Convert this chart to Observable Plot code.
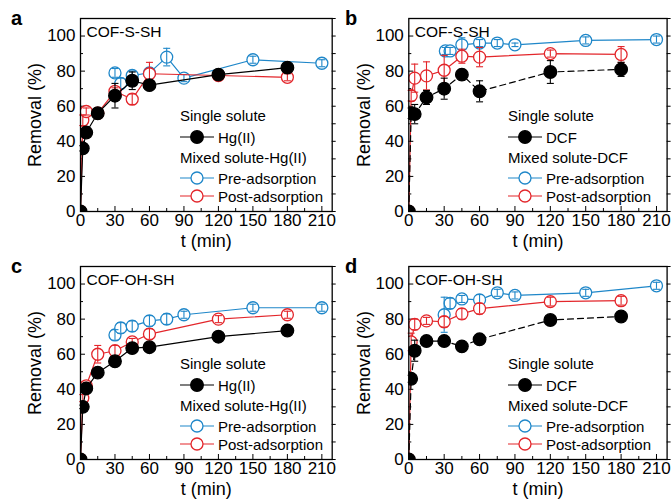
<!DOCTYPE html>
<html><head><meta charset="utf-8">
<script src="https://cdn.jsdelivr.net/npm/d3@7"></script>
<script src="https://cdn.jsdelivr.net/npm/@observablehq/plot@0.6"></script>
<style>
body{margin:0;background:#fff;}
#root{position:relative;width:671px;height:502px;overflow:hidden;font-family:"Liberation Sans",Arial,sans-serif;background:#fff;}
.panel{position:absolute;}
.panel svg{overflow:visible;}
</style></head><body><div id="root"></div>
<script>
// ---- data ----
const xTicks = [0,30,60,90,120,150,180,210];
const xMinor = [15,45,75,105,135,165,195];
const yTicks = [0,20,40,60,80,100];
const yMinor = [10,30,50,70,90];
const yRight = [0,10,20,30,40,50,60,70,80,90,100,110];

const tSingle = [0,2,5,15,30,45,60,120,180];
const tPost   = [0,2,5,15,30,45,60,120,180];
const tPre    = [30,35,45,60,75,90,150,210];
const tPreB   = [31,35,45,60,75,90,150,210];

// panel a: COF-S-SH, Hg(II)
const aSingle  = [0,36,45,56,66,74.5,72,78,82];
const aSingleE = [0,1.5,2,2,7,5,2,2,2];
const aPre     = [79,73,77.5,79,88,76,86.5,84.5];
const aPreE    = [2.5,3,2.5,3,5,2,2,2];
const aPost    = [0,52,57,56,68.5,64,78.5,77.5,76.5];
const aPostE   = [0,3,2,2,2,3,6.5,2,2];

// panel b: COF-S-SH, DCF
const bSingle  = [0,56,55.5,65,70,78,68.5,79.5,81];
const bSingleE = [0,3,5.5,4,6,3,6,6.5,4];
const bPre     = [91.5,91.5,95,96,96,95,97.5,98];
const bPreE    = [2,2,4,2,2,1,2,2];
const bPost    = [0,66,76,77.3,80.5,88.5,88,90,89.5];
const bPostE   = [0,3,8,8,8.5,4,5.5,2,4.5];

// panel c: COF-OH-SH, Hg(II)
const cSingle  = [0,30,40.5,49.5,56,63.5,64,70,73.5];
const cSingleE = [0,1,1.5,1.5,2,2,1.5,1.5,1.5];
const cPre     = [71,75,76,79,80,82.5,86.5,86.5];
const cPreE    = [3,3,3,3,3,2,2,2];
const cPost    = [0,35,42,60,62,67,71.5,80,82.5];
const cPostE   = [0,2,2,5,3,2,3,2,2];

// panel d: COF-OH-SH, DCF
const dSingle  = [0,46,62,67.5,67.5,64.5,68.5,79.5,81.5];
const dSingleE = [0,2,6,2,1.5,1.5,1.5,1.5,1.5];
const dPre     = [82.5,89,91.5,91,95,93.5,95,99];
const dPreE    = [10,3,2,3,2,2,2,2];
const dPost    = [0,67,77,79,78.5,83,86,90,90.5];
const dPostE   = [0,5,3,2,3,3,3,2.5,2.5];

const letters = ["a","b","c","d"];
const titles = ["COF-S-SH","COF-S-SH","COF-OH-SH","COF-OH-SH"];
const targets = ["Hg(II)","DCF","Hg(II)","DCF"];
const legendHeads = ["Single solute","Mixed solute-"];
const legendSeries = ["Pre-adsorption","Post-adsorption"];
const xLabel = "t (min)";
const yLabel = "Removal (%)";

const BLUE = "#1f87c9", RED = "#e3262b", BLACK = "#000";
const FONT = "'Liberation Sans', Arial, sans-serif";

const rows = (T,V,E) => T.map((t,i)=>({t, v:V[i], e:E[i]}));

const panels = [
  {left:0,   top:0,   width:335, ml:80,   mr:3.3, legX:180, dash:null,
   single:rows(tSingle,aSingle,aSingleE), pre:rows(tPre,aPre,aPreE), post:rows(tPost,aPost,aPostE)},
  {left:335, top:0,   width:336, ml:73.3, mr:4.4, legX:173, dash:"6,4",
   single:rows(tSingle,bSingle,bSingleE), pre:rows(tPreB,bPre,bPreE), post:rows(tPost,bPost,bPostE)},
  {left:0,   top:248, width:335, ml:80,   mr:3.3, legX:180, dash:null,
   single:rows(tSingle,cSingle,cSingleE), pre:rows(tPre,cPre,cPreE), post:rows(tPost,cPost,cPostE)},
  {left:335, top:248, width:336, ml:73.3, mr:4.4, legX:173, dash:"6,4",
   single:rows(tSingle,dSingle,dSingleE), pre:rows(tPre,dPre,dPreE), post:rows(tPost,dPost,dPostE)}
];

const cap = {draw(ctx){ ctx.moveTo(-3.5,0); ctx.lineTo(3.5,0); }};

function seriesMarks(data, color, filled, dash) {
  const err = data.filter(d=>d.e>0);
  return [
    Plot.line(data, {x:"t", y:"v", stroke:color, strokeWidth:1.2, strokeDasharray:dash||undefined, clip:true}),
    Plot.dot(data, {x:"t", y:"v", r: filled?6.3:6, fill: filled?color:"white", stroke:color, strokeWidth:1.3, clip:true}),
    Plot.ruleX(err, {x:"t", y1:d=>d.v-d.e, y2:d=>d.v+d.e, stroke:color, strokeWidth:1.1}),
    Plot.dot(err, {x:"t", y:d=>d.v+d.e, symbol:cap, r:1, stroke:color, strokeWidth:1.1, fill:"none"}),
    Plot.dot(err, {x:"t", y:d=>d.v-d.e, symbol:cap, r:1, stroke:color, strokeWidth:1.1, fill:"none"})
  ];
}

const root = document.getElementById("root");
const H = 254, MT = 18, MB = 43;

panels.forEach((p, i) => {
  const div = document.createElement("div");
  div.className = "panel";
  div.style.left = p.left + "px";
  div.style.top = p.top + "px";
  div.style.width = p.width + "px";
  div.style.height = H + "px";
  root.appendChild(div);

  const fw = p.width - p.ml - p.mr;
  const fh = H - MT - MB;

  const chart = Plot.plot({
    width: p.width, height: H,
    marginLeft: p.ml, marginRight: p.mr, marginTop: MT, marginBottom: MB,
    style: {fontFamily: FONT, fontSize: "15px", background: "transparent", color: "#000", overflow: "visible"},
    x: {domain: [0, 219]},
    y: {domain: [0, 110]},
    marks: [
      Plot.axisX({ticks: xTicks, tickSize: 0, tickPadding: 2, label: null, fontSize: 17}),
      Plot.axisY({ticks: yTicks, tickSize: 0, tickPadding: 5, label: null, fontSize: 17}),
      Plot.tickY(yTicks, {y: d=>d, insetRight: fw-5, stroke: BLACK, strokeWidth: 1}),
      Plot.tickY(yMinor, {y: d=>d, insetRight: fw-3, stroke: BLACK, strokeWidth: 1}),
      Plot.tickY(yRight, {y: d=>d, insetLeft: fw, insetRight: -4, stroke: BLACK, strokeWidth: 1}),
      Plot.tickX(xTicks, {x: d=>d, insetTop: fh-5, stroke: BLACK, strokeWidth: 1}),
      Plot.tickX(xMinor, {x: d=>d, insetTop: fh-3, stroke: BLACK, strokeWidth: 1}),
      ...seriesMarks(p.pre, BLUE, false, null),
      ...seriesMarks(p.post, RED, false, null),
      ...seriesMarks(p.single, BLACK, true, p.dash),
      Plot.frame({stroke: BLACK, strokeWidth: 1.3}),
      Plot.text([titles[i]], {text: d=>d, frameAnchor: "top-left", dx: 6, dy: 7, lineAnchor: "top", fontSize: 15.5}),
      Plot.text([yLabel], {text: d=>d, frameAnchor: "left", rotate: -90, dx: -45, textAnchor: "middle", lineAnchor: "middle", fontSize: 18}),
      Plot.text([xLabel], {text: d=>d, frameAnchor: "bottom", dy: 30, lineAnchor: "middle", fontSize: 18})
    ]
  });
  chart.style.position = "absolute";
  chart.style.left = "0px";
  chart.style.top = "0px";
  div.appendChild(chart);

  // overlay: panel letter + legend
  const svg = d3.select(div).append("svg")
    .attr("width", p.width).attr("height", H)
    .style("position","absolute").style("left","0px").style("top","0px")
    .style("font-family", FONT).style("pointer-events","none");
  svg.append("text").attr("x", i%2 ? 10 : 11).attr("y", 25)
    .attr("font-size", 20).attr("font-weight", "bold").text(letters[i]);

  const g = svg.append("g").attr("font-size", 15);
  const X = p.legX;
  g.append("text").attr("x", X).attr("y", 121).text(legendHeads[0]);
  g.append("text").attr("x", X).attr("y", 163).text(legendHeads[1] + targets[i]);
  const items = [
    {y:137, color:BLACK, filled:true, label:targets[i]},
    {y:178, color:BLUE, filled:false, label:legendSeries[0]},
    {y:196, color:RED, filled:false, label:legendSeries[1]}
  ];
  items.forEach(it => {
    g.append("line").attr("x1", X).attr("x2", X+34).attr("y1", it.y).attr("y2", it.y)
      .attr("stroke", it.color).attr("stroke-width", 1.2);
    g.append("circle").attr("cx", X+17).attr("cy", it.y).attr("r", it.filled?6.3:6)
      .attr("fill", it.filled?it.color:"white").attr("stroke", it.color).attr("stroke-width", 1.3);
    g.append("text").attr("x", X+38).attr("y", it.y+5.5).text(it.label);
  });
});
</script>
</body></html>
